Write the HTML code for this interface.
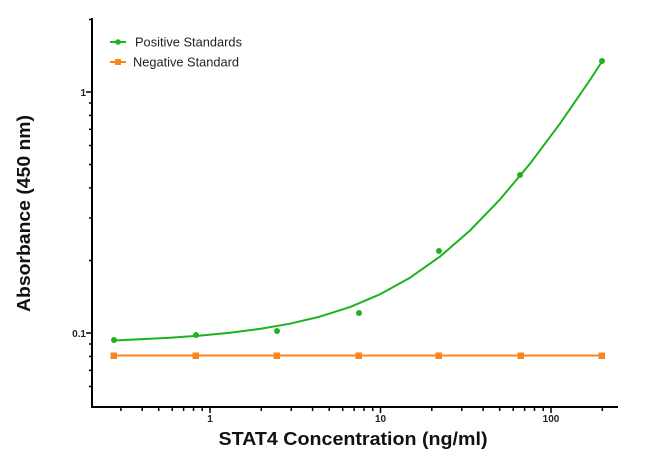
<!DOCTYPE html>
<html><head><meta charset="utf-8"><style>
html,body{margin:0;padding:0;background:#fff;}
svg{display:block;}
text{font-family:"Liberation Sans",Arial,sans-serif;}
</style></head><body>
<svg width="650" height="460" viewBox="0 0 650 460" xmlns="http://www.w3.org/2000/svg">
<rect width="650" height="460" fill="#fff"/>
<!-- axes -->
<g stroke="#000" stroke-width="2" fill="none">
<line x1="92" y1="18" x2="92" y2="408"/>
<line x1="91" y1="407" x2="618" y2="407"/>
</g>
<!-- y ticks -->
<g stroke="#000" stroke-width="1.5">
<line x1="86" y1="92" x2="92" y2="92"/>
<line x1="86" y1="333" x2="92" y2="333"/>
<line x1="89" y1="19.5" x2="92" y2="19.5"/>
<line x1="89" y1="103" x2="92" y2="103"/>
<line x1="89" y1="115.4" x2="92" y2="115.4"/>
<line x1="89" y1="129.3" x2="92" y2="129.3"/>
<line x1="89" y1="145.5" x2="92" y2="145.5"/>
<line x1="89" y1="164.5" x2="92" y2="164.5"/>
<line x1="89" y1="187.9" x2="92" y2="187.9"/>
<line x1="89" y1="218" x2="92" y2="218"/>
<line x1="89" y1="260.5" x2="92" y2="260.5"/>
<line x1="89" y1="344" x2="92" y2="344"/>
<line x1="89" y1="356.4" x2="92" y2="356.4"/>
<line x1="89" y1="370.3" x2="92" y2="370.3"/>
<line x1="89" y1="386.5" x2="92" y2="386.5"/>
</g>
<!-- x ticks -->
<g stroke="#000" stroke-width="1.5">
<line x1="210" y1="407" x2="210" y2="413"/>
<line x1="380.5" y1="407" x2="380.5" y2="413"/>
<line x1="551" y1="407" x2="551" y2="413"/>
<line x1="120.9" y1="407" x2="120.9" y2="411"/>
<line x1="142.2" y1="407" x2="142.2" y2="411"/>
<line x1="158.7" y1="407" x2="158.7" y2="411"/>
<line x1="172.2" y1="407" x2="172.2" y2="411"/>
<line x1="183.6" y1="407" x2="183.6" y2="411"/>
<line x1="193.5" y1="407" x2="193.5" y2="411"/>
<line x1="202.2" y1="407" x2="202.2" y2="411"/>
<line x1="261.3" y1="407" x2="261.3" y2="411"/>
<line x1="291.3" y1="407" x2="291.3" y2="411"/>
<line x1="312.6" y1="407" x2="312.6" y2="411"/>
<line x1="329.2" y1="407" x2="329.2" y2="411"/>
<line x1="342.7" y1="407" x2="342.7" y2="411"/>
<line x1="354.1" y1="407" x2="354.1" y2="411"/>
<line x1="364" y1="407" x2="364" y2="411"/>
<line x1="372.7" y1="407" x2="372.7" y2="411"/>
<line x1="431.8" y1="407" x2="431.8" y2="411"/>
<line x1="461.8" y1="407" x2="461.8" y2="411"/>
<line x1="483.1" y1="407" x2="483.1" y2="411"/>
<line x1="499.7" y1="407" x2="499.7" y2="411"/>
<line x1="513.2" y1="407" x2="513.2" y2="411"/>
<line x1="524.6" y1="407" x2="524.6" y2="411"/>
<line x1="534.5" y1="407" x2="534.5" y2="411"/>
<line x1="543.2" y1="407" x2="543.2" y2="411"/>
<line x1="602.3" y1="407" x2="602.3" y2="411"/>
</g>
<!-- tick labels -->
<g font-size="10" font-weight="bold" fill="#222">
<text x="86" y="96" text-anchor="end">1</text>
<text x="86" y="337" text-anchor="end">0.1</text>
<text x="210" y="422" text-anchor="middle">1</text>
<text x="380.5" y="422" text-anchor="middle">10</text>
<text x="551" y="422" text-anchor="middle">100</text>
</g>
<!-- axis titles -->
<text x="353" y="445" font-size="18" font-weight="bold" fill="#111" text-anchor="middle" textLength="269" lengthAdjust="spacingAndGlyphs">STAT4 Concentration (ng/ml)</text>
<text transform="translate(30,213.5) rotate(-90)" font-size="18" font-weight="bold" fill="#111" text-anchor="middle" textLength="197" lengthAdjust="spacingAndGlyphs">Absorbance (450 nm)</text>
<!-- negative standard -->
<g fill="#f7861f" stroke="none">
<line x1="114" y1="355.5" x2="602" y2="355.5" stroke="#f7861f" stroke-width="2"/>
<rect x="110.5" y="352.5" width="6.5" height="6.5"/>
<rect x="192.5" y="352.5" width="6.5" height="6.5"/>
<rect x="273.5" y="352.5" width="6.5" height="6.5"/>
<rect x="355.5" y="352.5" width="6.5" height="6.5"/>
<rect x="435.5" y="352.5" width="6.5" height="6.5"/>
<rect x="517.5" y="352.5" width="6.5" height="6.5"/>
<rect x="598.5" y="352.5" width="6.5" height="6.5"/>
</g>
<!-- positive standards curve -->
<polyline fill="none" stroke="#1db31d" stroke-width="2" stroke-linejoin="round" points="114,340.5 140,339.3 170,337.7 200,335.6 230,332.7 260,328.9 290,323.7 320,316.6 350,307.1 380,294.3 410,277.7 440,256.6 470,230.5 500,199.4 530,163.7 560,123.6 590,79.9 602,61.5"/>
<g fill="#1db31d">
<circle cx="114" cy="340" r="3"/>
<circle cx="196" cy="335" r="3"/>
<circle cx="277" cy="331" r="3"/>
<circle cx="359" cy="313" r="3"/>
<circle cx="439" cy="251" r="3"/>
<circle cx="520" cy="175" r="3"/>
<circle cx="602" cy="61" r="3"/>
</g>
<!-- legend -->
<line x1="110" y1="42" x2="126" y2="42" stroke="#1db31d" stroke-width="2"/>
<circle cx="118" cy="42" r="2.8" fill="#1db31d"/>
<text x="135" y="46.5" font-size="13" fill="#222" textLength="107" lengthAdjust="spacingAndGlyphs">Positive Standards</text>
<line x1="110" y1="62" x2="126" y2="62" stroke="#f7861f" stroke-width="2"/>
<rect x="115" y="59" width="6" height="6" fill="#f7861f"/>
<text x="133" y="66.5" font-size="13" fill="#222" textLength="106" lengthAdjust="spacingAndGlyphs">Negative Standard</text>
</svg>
</body></html>
